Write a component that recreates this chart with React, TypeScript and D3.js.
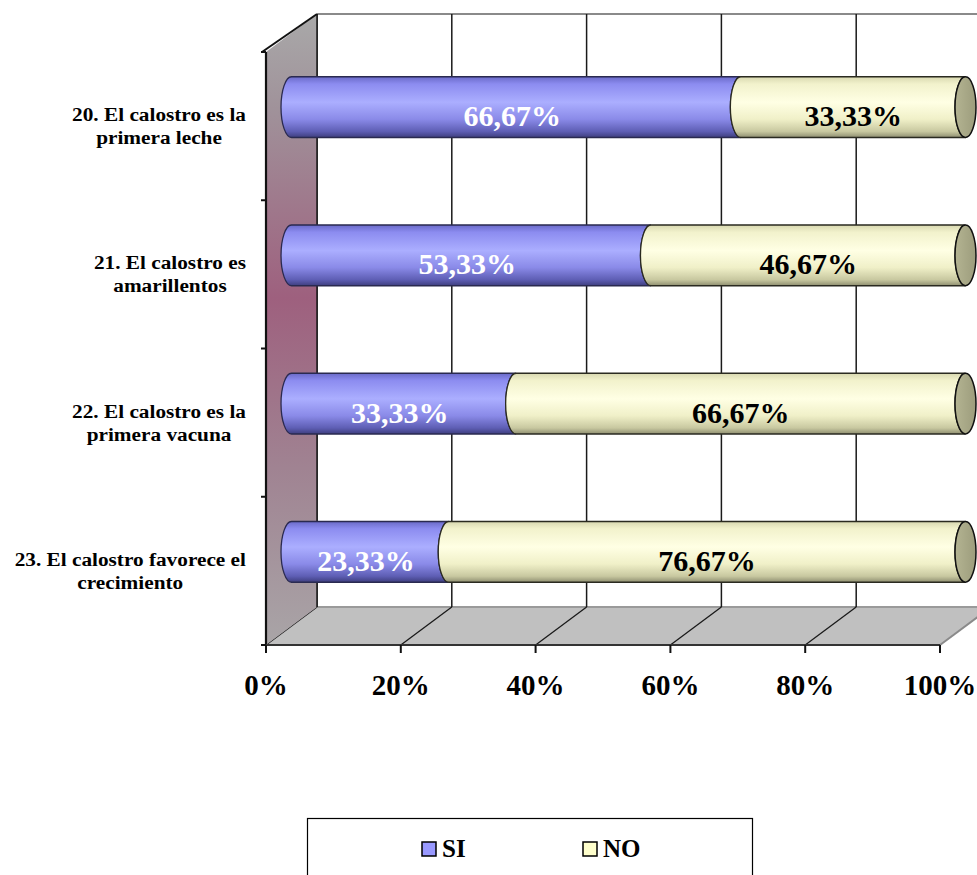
import React, { useMemo } from "react";
import * as d3 from "d3";

// Survey items (two-line labels) and their answer shares in percent
const categoryLines: string[][] = [
  ["20. El calostro es la", "primera leche"],
  ["21. El calostro es", "amarillentos"],
  ["22. El calostro es la", "primera vacuna"],
  ["23. El calostro favorece el", "crecimiento"],
];
const siValues = [66.67, 53.33, 33.33, 23.33];
const noValues = [33.33, 46.67, 66.67, 76.67];
const tickValues = [0, 20, 40, 60, 80, 100];
const seriesNames = ["SI", "NO"];

const W = 977;
const H = 875;
const SERIF = "'Liberation Serif', 'Times New Roman', 'DejaVu Serif', serif";

// 3D frame: front plane and depth offset
const FRONT_LEFT = 266;
const FRONT_RIGHT = 940;
const FRONT_TOP = 52;
const FRONT_BOTTOM = 645;
const DX = 51;
const DY = -38;

const fmt = (v: number) => v.toFixed(2).replace(".", ",") + "%";

function measure(text: string, font: string): number {
  const c = document.createElement("canvas");
  const ctx = c.getContext("2d");
  if (!ctx) return text.length * 9;
  ctx.font = font;
  return ctx.measureText(text).width;
}

const LABEL_SIZE = 19;
const LABEL_STRETCH = 1.12;

export default function App() {
  const xFront = d3.scaleLinear().domain([0, 100]).range([FRONT_LEFT, FRONT_RIGHT]);
  const xBack = (v: number) => xFront(v) + DX;
  const xMid = (v: number) => xFront(v) + DX / 2;

  const idx = categoryLines.map((_, i) => String(i));
  const yMid = d3
    .scaleBand<string>()
    .domain(idx)
    .range([FRONT_TOP + DY / 2, FRONT_BOTTOM + DY / 2])
    .paddingInner(0.59)
    .paddingOuter(0.295);
  const yFront = d3
    .scaleBand<string>()
    .domain(idx)
    .range([FRONT_TOP, FRONT_BOTTOM])
    .paddingInner(0)
    .paddingOuter(0);

  const bh = yMid.bandwidth();
  const rx = 10.5;

  const labelFont = `bold ${LABEL_SIZE}px 'Liberation Serif'`;
  const labelWidths = useMemo(
    () => categoryLines.map((lines) => lines.map((l) => measure(l, labelFont) * LABEL_STRETCH)),
    []
  );

  // A cylinder segment: convex left end, concave right end
  const segPath = (xs: number, xe: number, top: number) => {
    const bot = top + bh;
    const ry = bh / 2;
    return (
      `M${xs},${top} L${xe},${top} ` +
      `A${rx},${ry} 0 0 0 ${xe},${bot} ` +
      `L${xs},${bot} ` +
      `A${rx},${ry} 0 0 1 ${xs},${top} Z`
    );
  };

  const floorPts = [
    [FRONT_LEFT, FRONT_BOTTOM],
    [FRONT_RIGHT, FRONT_BOTTOM],
    [FRONT_RIGHT + DX, FRONT_BOTTOM + DY],
    [FRONT_LEFT + DX, FRONT_BOTTOM + DY],
  ];
  const wallPts = [
    [FRONT_LEFT, FRONT_TOP],
    [FRONT_LEFT + DX, FRONT_TOP + DY],
    [FRONT_LEFT + DX, FRONT_BOTTOM + DY],
    [FRONT_LEFT, FRONT_BOTTOM],
  ];
  const pts = (p: number[][]) => p.map((q) => q.join(",")).join(" ");

  const catTicks = d3.range(categoryLines.length + 1).map(
    (i) => FRONT_TOP + i * yFront.step()
  );

  return (
    <svg
      width={W}
      height={H}
      viewBox={`0 0 ${W} ${H}`}
      style={{ position: "absolute", left: 0, top: 0, background: "#fff" }}
    >
      <defs>
        <linearGradient id="wallGrad" gradientUnits="userSpaceOnUse" x1="0" y1={FRONT_TOP + DY} x2="0" y2={FRONT_BOTTOM}>
          <stop offset="0" stopColor="#a9a9a9" />
          <stop offset="0.15" stopColor="#a0929a" />
          <stop offset="0.45" stopColor="#9e607e" />
          <stop offset="0.72" stopColor="#a08392" />
          <stop offset="1" stopColor="#a9a5a7" />
        </linearGradient>
        <linearGradient id="siGrad" x1="0" y1="0" x2="0" y2="1">
          <stop offset="0" stopColor="#6a6ac8" />
          <stop offset="0.12" stopColor="#8c8cf0" />
          <stop offset="0.42" stopColor="#abaeff" />
          <stop offset="0.7" stopColor="#8a8ae8" />
          <stop offset="0.9" stopColor="#5e5eb4" />
          <stop offset="1" stopColor="#3e3e7e" />
        </linearGradient>
        <linearGradient id="noGrad" x1="0" y1="0" x2="0" y2="1">
          <stop offset="0" stopColor="#d8d8b0" />
          <stop offset="0.12" stopColor="#f2f2cc" />
          <stop offset="0.42" stopColor="#ffffe4" />
          <stop offset="0.7" stopColor="#f0f0c8" />
          <stop offset="0.9" stopColor="#c8c8a0" />
          <stop offset="1" stopColor="#8e8e70" />
        </linearGradient>
        <linearGradient id="capGrad" x1="0" y1="0" x2="1" y2="0">
          <stop offset="0" stopColor="#b4b492" />
          <stop offset="1" stopColor="#9c9c7c" />
        </linearGradient>
      </defs>

      {/* back wall frame */}
      <line x1={FRONT_LEFT + DX} x2={W} y1={FRONT_TOP + DY} y2={FRONT_TOP + DY} stroke="#8a8a8a" strokeWidth={2} />

      {/* floor */}
      <polygon points={pts(floorPts)} fill="#c0c0c0" />
      <line x1={FRONT_LEFT + DX} x2={W} y1={FRONT_BOTTOM + DY} y2={FRONT_BOTTOM + DY} stroke="#9a9a9a" strokeWidth={2} />
      <line x1={FRONT_RIGHT} y1={FRONT_BOTTOM} x2={FRONT_RIGHT + DX} y2={FRONT_BOTTOM + DY} stroke="#8a8a8a" strokeWidth={2} />

      {/* gridlines on back wall and floor */}
      {tickValues.slice(0, -1).map((t) => (
        <g key={`g${t}`}>
          <line x1={xBack(t)} x2={xBack(t)} y1={FRONT_TOP + DY} y2={FRONT_BOTTOM + DY} stroke="#1a1a1a" strokeWidth={1.5} />
          <line x1={xFront(t)} y1={FRONT_BOTTOM} x2={xBack(t)} y2={FRONT_BOTTOM + DY} stroke="#1a1a1a" strokeWidth={1.3} />
        </g>
      ))}

      {/* side wall */}
      <polygon points={pts(wallPts)} fill="url(#wallGrad)" />
      <line x1={FRONT_LEFT + DX} x2={FRONT_LEFT + DX} y1={FRONT_TOP + DY} y2={FRONT_BOTTOM + DY} stroke="#1a1a1a" strokeWidth={1.5} />
      <line x1={FRONT_LEFT - 4} y1={FRONT_TOP} x2={FRONT_LEFT + DX} y2={FRONT_TOP + DY} stroke="#111" strokeWidth={2} />
      <line x1={FRONT_LEFT} x2={FRONT_LEFT} y1={FRONT_TOP} y2={FRONT_BOTTOM} stroke="#111" strokeWidth={2.2} />
      <line x1={FRONT_LEFT} x2={FRONT_RIGHT} y1={FRONT_BOTTOM} y2={FRONT_BOTTOM} stroke="#333" strokeWidth={2.2} />
      {catTicks.map((y, i) => (
        <line key={`ct${i}`} x1={FRONT_LEFT - 5} x2={FRONT_LEFT} y1={y} y2={y} stroke="#111" strokeWidth={2} />
      ))}
      {tickValues.map((t) => (
        <line key={`xt${t}`} x1={xFront(t)} x2={xFront(t)} y1={FRONT_BOTTOM} y2={FRONT_BOTTOM + 8} stroke="#111" strokeWidth={2} />
      ))}

      {/* cylinders */}
      {idx.map((k, i) => {
        const top = yMid(k) as number;
        const cy = top + bh / 2;
        const si = siValues[i];
        const no = noValues[i];
        const x0 = xMid(0);
        const x1 = xMid(si);
        const x2 = xMid(si + no);
        return (
          <g key={`bar${k}`}>
            <path d={segPath(x0, x1, top)} fill="url(#siGrad)" stroke="#2a2a50" strokeWidth={1.3} />
            <path d={segPath(x1, x2, top)} fill="url(#noGrad)" stroke="#2a2a20" strokeWidth={1.3} />
            <ellipse cx={x2} cy={cy} rx={rx} ry={bh / 2} fill="url(#capGrad)" stroke="#111" strokeWidth={1.5} />
            <text x={(x0 + x1) / 2 - 4} y={cy + 19} textAnchor="middle" fontFamily={SERIF} fontWeight="bold" fontSize={30} fill="#fff">
              {fmt(si)}
            </text>
            <text x={(x1 + x2) / 2} y={cy + 19} textAnchor="middle" fontFamily={SERIF} fontWeight="bold" fontSize={30} fill="#000">
              {fmt(no)}
            </text>
          </g>
        );
      })}

      {/* category labels */}
      {idx.map((k, i) => {
        const cy = (yMid(k) as number) + bh / 2;
        const maxW = Math.max(...labelWidths[i]);
        const cx = 246 - maxW / 2;
        return (
          <g key={`cl${k}`} transform={`translate(${cx},0) scale(${LABEL_STRETCH},1)`}>
            <text textAnchor="middle" fontFamily={SERIF} fontWeight="bold" fontSize={LABEL_SIZE} fill="#000">
              {categoryLines[i].map((line, j) => (
                <tspan key={j} x={0} y={cy + 14 + j * 23}>
                  {line}
                </tspan>
              ))}
            </text>
          </g>
        );
      })}

      {/* x-axis tick labels */}
      {tickValues.map((t) => (
        <text key={`xl${t}`} x={xFront(t)} y={695} textAnchor="middle" fontFamily={SERIF} fontWeight="bold" fontSize={29} fill="#000">
          {t}%
        </text>
      ))}

      {/* legend */}
      <rect x={307.5} y={818.5} width={445} height={70} fill="#fff" stroke="#000" strokeWidth={1.2} />
      {seriesNames.map((name, i) => {
        const lx = i === 0 ? 422 : 583;
        return (
          <g key={`lg${name}`}>
            <rect x={lx} y={842} width={14} height={14} fill={i === 0 ? "#9999ff" : "#ffffcc"} stroke="#000" strokeWidth={1.5} />
            <text x={lx + 20} y={857} fontFamily={SERIF} fontWeight="bold" fontSize={25} fill="#000">
              {name}
            </text>
          </g>
        );
      })}
    </svg>
  );
}
